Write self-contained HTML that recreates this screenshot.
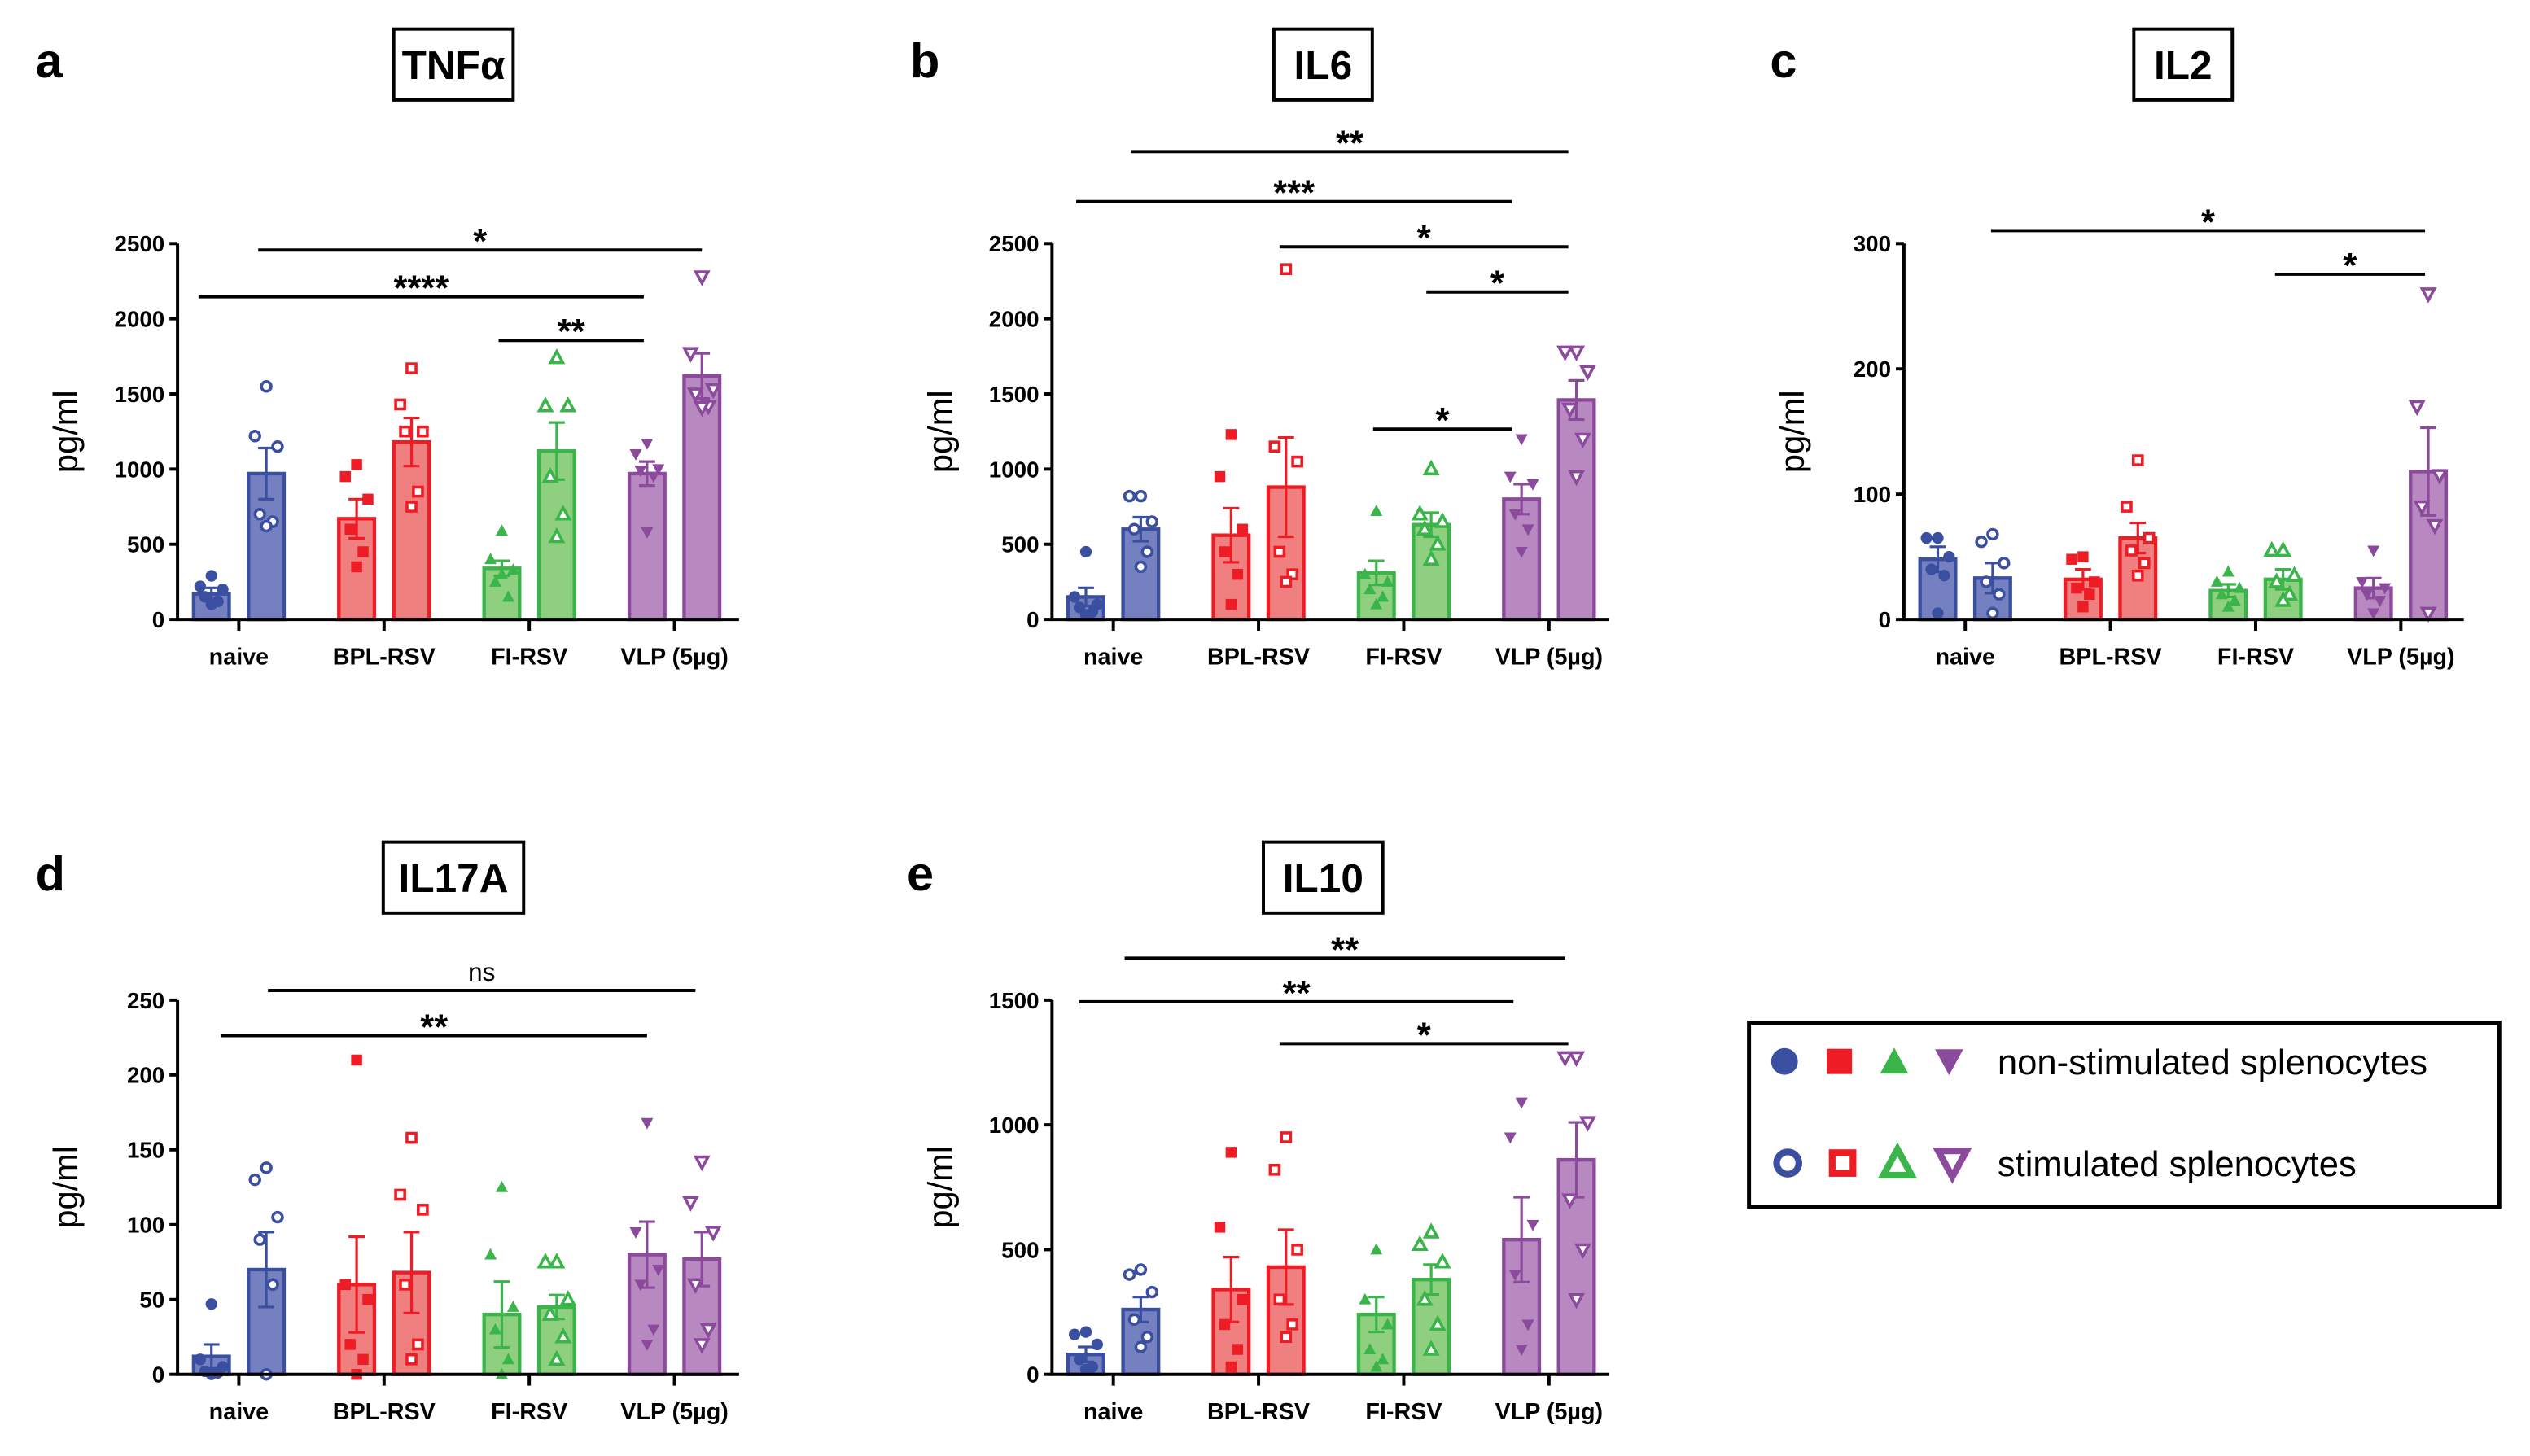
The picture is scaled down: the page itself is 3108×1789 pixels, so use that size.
<!DOCTYPE html>
<html><head><meta charset="utf-8"><style>
html,body{margin:0;padding:0;background:#fff}
svg{display:block}
text{font-family:"Liberation Sans",Arial,sans-serif}
</style></head><body>
<svg id="fig" width="3108" height="1789" viewBox="0 0 1568 902.6" xmlns="http://www.w3.org/2000/svg"></svg>
<script>
const categories = ["naive","BPL-RSV","FI-RSV","VLP (5µg)"];
// TNFa
const tnfMeans = [170,970,670,1180,340,1120,970,1620];
const tnfSem = [40,170,130,160,50,190,80,150];
const tnfPts = [[290,220,200,150,120,100],[1550,1220,1150,700,650,620],[1030,950,800,600,450,350],[1670,1430,1250,1250,850,750],[590,400,330,250,150,300],[1740,1420,1420,950,700,550],[1170,1100,1000,990,950,580],[2280,1770,1530,1500,1420,1410]];
const tnfTicks = [0,500,1000,1500,2000,2500];
// IL6
const il6Means = [150,600,560,880,310,630,800,1460];
const il6Sem = [60,80,180,330,80,80,100,130];
const il6Pts = [[450,150,100,80,50,30],[820,820,650,600,450,350],[1230,950,600,450,300,100],[2330,1150,1050,450,300,250],[720,300,250,200,150,100],[1000,700,650,600,500,400],[1200,950,900,700,600,450],[1780,1780,1650,1400,1200,950]];
const il6Ticks = [0,500,1000,1500,2000,2500];
// IL2
const il2Means = [48,33,32,65,23,32,25,118];
const il2Sem = [10,12,8,12,5,8,8,35];
const il2Pts = [[65,65,50,40,35,5],[68,62,45,30,20,5],[50,48,30,25,20,10],[127,90,65,55,45,35],[38,30,25,20,15,10],[55,55,35,30,20,15],[55,30,25,20,15,5],[260,170,115,90,75,5]];
const il2Ticks = [0,100,200,300];
// IL17A
const il17Means = [12,70,60,68,40,45,80,77];
const il17Sem = [8,25,32,27,22,8,22,18];
const il17Pts = [[47,10,5,2,1,0],[138,130,105,90,60,0],[210,60,50,20,10,0],[158,120,110,60,20,10],[125,80,45,30,10,0],[75,75,50,40,25,10],[168,95,70,60,30,20],[142,115,95,60,30,20]];
const il17Ticks = [0,50,100,150,200,250];
// IL10
const il10Means = [80,260,340,430,240,380,540,860];
const il10Sem = [30,50,130,150,70,60,170,150];
const il10Pts = [[170,160,120,60,30,20],[420,400,330,220,150,110],[890,590,300,200,100,30],[950,820,500,300,200,150],[500,300,200,100,60,30],[570,520,450,300,200,100],[1090,950,600,400,200,100],[1270,1270,1010,700,500,300]];
const il10Ticks = [0,500,1000,1500];

const NS="http://www.w3.org/2000/svg";
const svg=document.getElementById('fig');
const line=["#3a4fa0","#ee1c25","#3ab54a","#8b4a9c"];
const fill=["#7580c0","#f08080","#8fcf80","#b888c0"];
function mk(tag,attrs,parent){const e=document.createElementNS(NS,tag);for(const k in attrs)e.setAttribute(k,attrs[k]);(parent||svg).appendChild(e);return e;}
function marker(g,shape,x,y,col,filled){
  const sw=filled?0:1.8, f=filled?col:"#fff";
  let e;
  if(shape===0) e=mk('circle',{cx:x,cy:y,r:filled?3.6:3,fill:f,stroke:col,'stroke-width':sw},g);
  else if(shape===1) e=mk('rect',{x:x-(filled?3.4:2.8),y:y-(filled?3.4:2.8),width:filled?6.8:5.6,height:filled?6.8:5.6,fill:f,stroke:col,'stroke-width':sw},g);
  else if(shape===2) e=mk('polygon',{points:`${x},${y-4} ${x-3.8},${y+3} ${x+3.8},${y+3}`,fill:f,stroke:col,'stroke-width':sw},g);
  else e=mk('polygon',{points:`${x},${y+4} ${x-3.8},${y-3} ${x+3.8},${y-3}`,fill:f,stroke:col,'stroke-width':sw},g);
  
  
}
function panel(cfg){
  const g=mk('g',{});
  
  
  const ymax=cfg.ticks[cfg.ticks.length-1];
  const yS=v=>cfg.y0-(v/ymax)*(cfg.y0-cfg.yTop);
  const xC=i=>cfg.x0+38+i*90;
  // letter
  const L=mk('text',{x:cfg.letterX,y:cfg.titleY+8,'font-size':30,'font-weight':'bold'},g);L.textContent=cfg.letter;
  
  // title box
  const tw=cfg.title.length*13+22;
  const tb=mk('rect',{x:cfg.titleX-tw/2,y:cfg.titleY-22,width:tw,height:44,fill:'#fff',stroke:'#000','stroke-width':2},g);
  
  const T=mk('text',{x:cfg.titleX,y:cfg.titleY+9,'font-size':25,'font-weight':'bold','text-anchor':'middle'},g);T.textContent=cfg.title;
  
  // bars
  for(let i=0;i<8;i++){
    const gi=Math.floor(i/2), st=i%2, cx=xC(gi)+(st?17:-17);
    const yv=yS(cfg.means[i]);
    const b=mk('rect',{x:cx-11,y:yv,width:22,height:cfg.y0-yv,fill:fill[gi],stroke:line[gi],'stroke-width':2.2},g);
    
    
    const ye=yS(cfg.means[i]+cfg.sem[i]), yl=yS(Math.max(0,cfg.means[i]-cfg.sem[i]));
    const eb=mk('path',{d:`M${cx},${yl}V${ye}M${cx-5},${ye}H${cx+5}M${cx-5},${yl}H${cx+5}`,stroke:line[gi],'stroke-width':1.6,fill:'none'},g);
    
    const off=[0,-7,7,-4,4,0];
    cfg.pts[i].forEach((v,k)=>marker(g,gi,cx+off[k%6],yS(v),line[gi],!st));
  }
  // axes
  const ax=mk('path',{d:`M${cfg.x0},${cfg.yTop}V${cfg.y0}H${cfg.x1}`,stroke:'#000','stroke-width':2,fill:'none'},g);
  
  cfg.ticks.forEach(t=>{
    const y=yS(t);
    mk('line',{x1:cfg.x0-5,x2:cfg.x0,y1:y,y2:y,stroke:'#000','stroke-width':2},g);
    const tl=mk('text',{x:cfg.x0-8,y:y+5,'font-size':14,'font-weight':'bold','text-anchor':'end'},g);tl.textContent=t;
    
  });
  categories.forEach((c,i)=>{
    mk('line',{x1:xC(i),x2:xC(i),y1:cfg.y0,y2:cfg.y0+7,stroke:'#000','stroke-width':2},g);
    const cl=mk('text',{x:xC(i),y:cfg.y0+28,'font-size':14.5,'font-weight':'bold','text-anchor':'middle'},g);cl.textContent=c;
    
  });
  const yt=mk('text',{transform:`translate(${cfg.x0-62},${(cfg.y0+cfg.yTop)/2}) rotate(-90)`,'font-size':21,'text-anchor':'middle'},g);yt.textContent='pg/ml';
  
  cfg.sig.forEach(s=>{
    const sl=mk('line',{x1:s[0],x2:s[1],y1:s[2],y2:s[2],stroke:'#000','stroke-width':2},g);
    
    const st=mk('text',{x:(s[0]+s[1])/2,y:s[2]-(s[3]==='ns'?6:-2),'font-size':s[3]==='ns'?16:22,'font-weight':s[3]==='ns'?'normal':'bold','text-anchor':'middle'},g);st.textContent=s[3];
    
  });
}
panel({name:'tnfa',letter:'a',letterX:22,title:'TNFα',titleX:281,titleY:40,x0:110,x1:458,y0:384,yTop:151,ticks:tnfTicks,means:tnfMeans,sem:tnfSem,pts:tnfPts,
  sig:[[160,435,155,'*'],[123,399,184,'****'],[309,399,211,'**']]});
panel({name:'il6',letter:'b',letterX:564,title:'IL6',titleX:820,titleY:40,x0:652,x1:997,y0:384,yTop:151,ticks:il6Ticks,means:il6Means,sem:il6Sem,pts:il6Pts,
  sig:[[701,972,94,'**'],[667,937,125,'***'],[793,972,153,'*'],[884,972,181,'*'],[851,937,266,'*']]});
panel({name:'il2',letter:'c',letterX:1097,title:'IL2',titleX:1353,titleY:40,x0:1180,x1:1527,y0:384,yTop:151,ticks:il2Ticks,means:il2Means,sem:il2Sem,pts:il2Pts,
  sig:[[1234,1503,143,'*'],[1410,1503,170,'*']]});
panel({name:'il17a',letter:'d',letterX:22,title:'IL17A',titleX:281,titleY:544,x0:110,x1:458,y0:852,yTop:620,ticks:il17Ticks,means:il17Means,sem:il17Sem,pts:il17Pts,
  sig:[[166,431,614,'ns'],[137,401,642,'**']]});
panel({name:'il10',letter:'e',letterX:562,title:'IL10',titleX:820,titleY:544,x0:652,x1:997,y0:852,yTop:620,ticks:il10Ticks,means:il10Means,sem:il10Sem,pts:il10Pts,
  sig:[[697,970,594,'**'],[669,938,621,'**'],[793,972,647,'*']]});
// legend
const lg=mk('g',{});


mk('rect',{x:1084,y:634,width:465,height:114,fill:'#fff',stroke:'#000','stroke-width':2.5},lg);
[0,1,2,3].forEach(i=>{marker(lg,i,1106+i*34,658,line[i],true);});
[0,1,2,3].forEach(i=>{marker(lg,i,1108+i*34,721,line[i],false);});
lg.querySelectorAll('circle,rect:not(:first-child),polygon').forEach(e=>e.setAttribute('transform',`translate(${e.getAttribute('cx')||0},0)`));
lg.querySelectorAll('circle,polygon,rect').forEach((e,k)=>{if(k>0){const bb=e.getBBox();const cx=bb.x+bb.width/2,cy=bb.y+bb.height/2;e.setAttribute('transform',`translate(${cx},${cy}) scale(2.3) translate(${-cx},${-cy})`);}});
const t1=mk('text',{x:1238,y:666,'font-size':22},lg);t1.textContent='non-stimulated splenocytes';

const t2=mk('text',{x:1238,y:729,'font-size':22},lg);t2.textContent='stimulated splenocytes';

</script>
</body></html>
